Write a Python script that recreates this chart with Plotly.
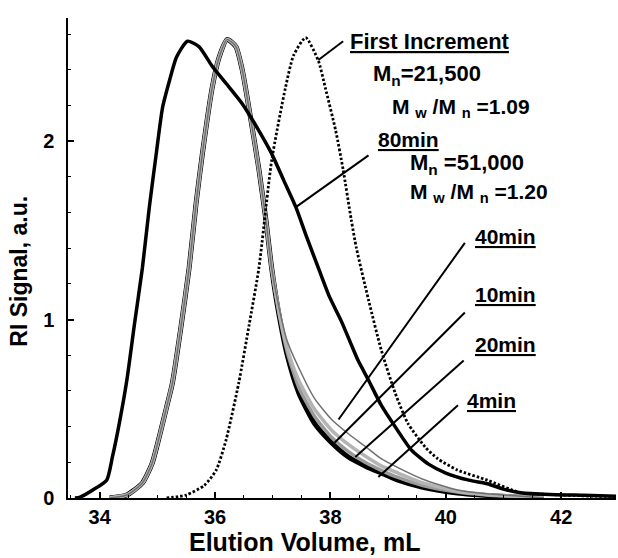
import plotly.graph_objects as go

# ---------------- data ----------------
x_80min = [33.57, 33.66, 33.88, 34.12, 34.22, 34.34, 34.47, 34.6, 34.74, 34.86, 34.98, 35.09,
           35.21, 35.33, 35.52, 35.72, 35.95, 36.2, 36.47, 36.72, 36.98, 37.19, 37.4, 37.59,
           37.79, 37.98, 38.19, 38.36, 38.48, 38.66, 38.88, 39.12, 39.4, 39.7, 40.0, 40.4,
           40.72, 41.0, 41.3, 41.8, 42.4, 42.95]
y_80min = [0.0, 0.005, 0.045, 0.10, 0.23, 0.42, 0.66, 0.97, 1.29, 1.63, 1.93, 2.19,
           2.34, 2.47, 2.56, 2.53, 2.42, 2.32, 2.21, 2.08, 1.93, 1.78, 1.63, 1.46,
           1.29, 1.13, 0.99, 0.86, 0.77, 0.66, 0.52, 0.40, 0.27, 0.19, 0.14, 0.10,
           0.08, 0.05, 0.03, 0.02, 0.015, 0.01]

x_first = [35.16, 35.5, 35.81, 36.02, 36.19, 36.41, 36.59, 36.76, 36.98, 37.22, 37.36, 37.57,
           37.79, 37.91, 38.09, 38.22, 38.36, 38.45, 38.66, 38.88, 39.12, 39.34, 39.64, 39.86,
           40.2, 40.72, 41.29, 41.8, 42.4, 42.95]
y_first = [0.0, 0.017, 0.07, 0.157, 0.325, 0.645, 0.97, 1.29, 1.89, 2.30, 2.48, 2.58,
           2.45, 2.30, 2.06, 1.84, 1.56, 1.40, 1.11, 0.83, 0.59, 0.42, 0.286, 0.22,
           0.157, 0.10, 0.03, 0.02, 0.012, 0.008]

x_gray = [34.17, 34.47, 34.74, 34.91, 35.03, 35.16, 35.26, 35.4, 35.55, 35.67, 35.78, 35.95,
          36.07, 36.21, 36.36, 36.47, 36.62, 36.76, 36.88, 36.98, 37.1, 37.25, 37.45, 37.72,
          38.02, 38.31, 38.6, 38.88, 39.17, 39.6, 40.2, 40.7, 41.2, 41.7]
y_4min = [0.0, 0.017, 0.084, 0.196, 0.34, 0.51, 0.645, 0.94, 1.29, 1.65, 1.93, 2.30,
          2.47, 2.57, 2.53, 2.40, 2.12, 1.84, 1.56, 1.29, 1.04, 0.80, 0.59, 0.42,
          0.31, 0.23, 0.18, 0.14, 0.10, 0.06, 0.028, 0.014, 0.006, 0.0]
y_10min = [0.0, 0.017, 0.084, 0.196, 0.34, 0.51, 0.645, 0.94, 1.29, 1.65, 1.93, 2.30,
           2.47, 2.57, 2.53, 2.40, 2.12, 1.84, 1.56, 1.29, 1.05, 0.82, 0.62, 0.46,
           0.34, 0.26, 0.20, 0.155, 0.115, 0.07, 0.033, 0.017, 0.008, 0.0]
y_20min = [0.0, 0.017, 0.084, 0.196, 0.34, 0.51, 0.645, 0.94, 1.29, 1.65, 1.93, 2.30,
           2.47, 2.57, 2.53, 2.40, 2.12, 1.84, 1.56, 1.29, 1.06, 0.84, 0.66, 0.50,
           0.38, 0.30, 0.235, 0.18, 0.14, 0.085, 0.038, 0.02, 0.01, 0.0]
y_40min = [0.0, 0.017, 0.084, 0.196, 0.34, 0.51, 0.645, 0.94, 1.29, 1.65, 1.93, 2.30,
           2.47, 2.57, 2.53, 2.40, 2.12, 1.84, 1.56, 1.29, 1.08, 0.88, 0.73, 0.56,
           0.44, 0.36, 0.29, 0.22, 0.17, 0.105, 0.045, 0.024, 0.012, 0.0]

x_ticks = [34, 36, 38, 40, 42]
x_tick_labels = ["34", "36", "38", "40", "42"]
y_ticks = [0, 1, 2]
y_tick_labels = ["0", "1", "2"]

FONT = "Liberation Sans, Arial, sans-serif"

fig = go.Figure()

spline = dict(shape="spline", smoothing=0.6)
fig.add_trace(go.Scatter(x=x_gray, y=y_4min, mode="lines", name="4min",
                         line=dict(color="black", width=5, **spline)))
fig.add_trace(go.Scatter(x=x_gray, y=y_10min, mode="lines", name="10min",
                         line=dict(color="#9a9a9a", width=3.5, **spline)))
fig.add_trace(go.Scatter(x=x_gray, y=y_20min, mode="lines", name="20min",
                         line=dict(color="#b4b4b4", width=3.5, **spline)))
fig.add_trace(go.Scatter(x=x_gray, y=y_40min, mode="lines", name="40min",
                         line=dict(color="#707070", width=1.5, **spline)))
fig.add_trace(go.Scatter(x=x_80min, y=y_80min, mode="lines", name="80min",
                         line=dict(color="black", width=3.5, **spline)))
fig.add_trace(go.Scatter(x=x_first, y=y_first, mode="lines", name="First Increment",
                         line=dict(color="black", width=2.8, dash="2.5px,2px", **spline)))

# pointer lines (label end -> curve)
pointers = [
    (38.22, 2.56, 37.79, 2.455),
    (38.66, 1.92, 37.40, 1.63),
    (40.33, 1.43, 38.14, 0.44),
    (40.33, 1.04, 38.07, 0.31),
    (40.31, 0.77, 38.43, 0.23),
    (40.21, 0.52, 38.83, 0.118),
]
for x0, y0, x1, y1 in pointers:
    fig.add_shape(type="line", xref="x", yref="y", x0=x0, y0=y0, x1=x1, y1=y1,
                  line=dict(color="black", width=2))

labels = [
    (38.31, 2.556, "<u>First Increment</u>", 22),
    (38.71, 2.37, "M<sub>n</sub>=21,500", 22),
    (39.03, 2.186, "M <sub>w</sub> /M <sub>n</sub> =1.09", 21),
    (38.79, 2.007, "<u>80min</u>", 21),
    (39.34, 1.872, "M<sub>n</sub> =51,000", 22),
    (39.34, 1.71, "M <sub>w</sub> /M <sub>n</sub> =1.20", 21),
    (40.47, 1.463, "<u>40min</u>", 21),
    (40.47, 1.138, "<u>10min</u>", 21),
    (40.47, 0.863, "<u>20min</u>", 21),
    (40.34, 0.544, "<u>4min</u>", 21),
]
for lx, ly, txt, fs in labels:
    fig.add_annotation(x=lx, y=ly, xref="x", yref="y", text=txt, showarrow=False,
                       xanchor="left", yanchor="middle",
                       font=dict(family=FONT, size=fs, color="black", weight=700))

# axis titles
fig.add_annotation(x=0.432, y=-0.092, xref="paper", yref="paper", text="Elution Volume, mL",
                   showarrow=False, xanchor="center", yanchor="middle",
                   font=dict(family=FONT, size=25, color="black", weight=700))
fig.add_annotation(x=-0.089, y=0.472, xref="paper", yref="paper", text="RI Signal, a.u.",
                   showarrow=False, xanchor="center", yanchor="middle", textangle=-90,
                   font=dict(family=FONT, size=23, color="black", weight=700))

fig.update_layout(
    width=618, height=558,
    margin=dict(l=68, r=2, t=18, b=60),
    paper_bgcolor="white", plot_bgcolor="white",
    showlegend=False,
    xaxis=dict(range=[33.45, 42.95], showgrid=False, zeroline=False,
               showline=True, linecolor="black", linewidth=1.5,
               ticks="inside", ticklen=6, tickwidth=1.5, tickcolor="black",
               tickvals=x_ticks, ticktext=x_tick_labels, ticklabelstandoff=0,
               minor=dict(dtick=0.5, tick0=34, ticks="inside", ticklen=3, tickcolor="black", tickwidth=1),
               tickfont=dict(family=FONT, size=20, color="black", weight=700)),
    yaxis=dict(range=[0, 2.69], showgrid=False, zeroline=False,
               showline=True, linecolor="black", linewidth=1.5,
               ticks="inside", ticklen=6, tickwidth=1.5, tickcolor="black",
               tickvals=y_ticks, ticktext=y_tick_labels, ticklabelstandoff=8,
               minor=dict(dtick=0.2, tick0=0, ticks="inside", ticklen=3, tickcolor="black", tickwidth=1),
               tickfont=dict(family=FONT, size=20, color="black", weight=700)),
)

fig.write_html("out.html", config={"displayModeBar": False},
               post_script="document.body.style.margin='0';document.body.style.overflow='hidden';")
